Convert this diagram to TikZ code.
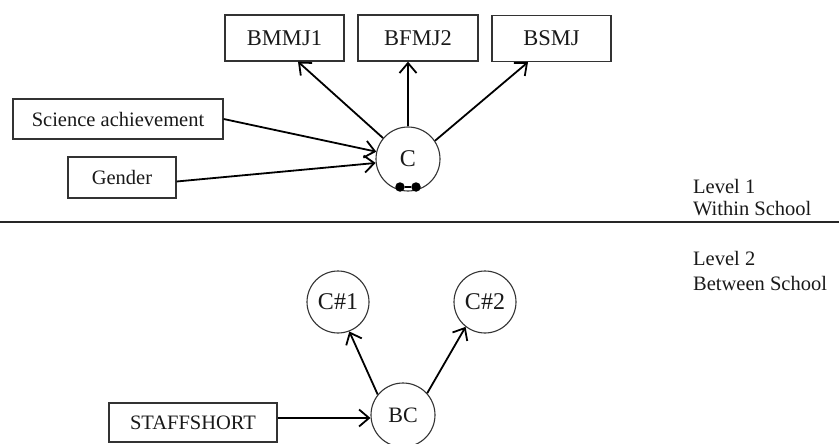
\documentclass[tikz,border=0pt]{standalone}
\usepackage{fontspec}
\setmainfont{Liberation Serif}
\usetikzlibrary{arrows.meta}
\begin{document}
\begin{tikzpicture}[x=1pt,y=-1pt,
  boxnode/.style={draw=black!80,line width=1.3pt,rectangle,inner sep=0pt,text=black!90},
  topbox/.style={boxnode,minimum height=46pt,font=\fontsize{22.5}{26}\selectfont},
  sidebox/.style={boxnode,font=\fontsize{20.5}{24}\selectfont},
  latent/.style={draw=black!80,line width=1.1pt,circle,inner sep=0pt,text=black!90},
  dotnode/.style={circle,fill=black,inner sep=0pt,minimum size=9.5pt},
  lvl/.style={anchor=base west,inner sep=0pt,text=black!90,font=\fontsize{20.5}{24}\selectfont},
  arr/.style={draw=black,line width=1.8pt,-{Straight Barb[length=10pt,width=17pt]}}
]
\useasboundingbox (0,0) rectangle (839,444);
% level 1
\node[topbox,minimum width=119pt] (bmmj1) at (284.5,38) {BMMJ1};
\node[topbox,minimum width=120pt] (bfmj2) at (418,38) {BFMJ2};
\node[topbox,minimum width=119pt] (bsmj) at (551.5,38.5) {BSMJ};
\node[sidebox,minimum width=210pt,minimum height=40pt] (sci) at (118,119) {Science achievement};
\node[sidebox,minimum width=108pt,minimum height=41pt] (gender) at (122,177.5) {Gender};
\node[latent,minimum size=64pt,font=\fontsize{24}{28}\selectfont] (c) at (408,159) {C};
\node[dotnode] (d1) at (400,187) {};
\node[dotnode] (d2) at (416,187) {};
\draw[line width=1.1pt] (d1) -- (d2);
\draw[arr] (c.140) -- ([xshift=13.5pt]bmmj1.south);
\draw[arr] (c.north) -- (c.north |- bfmj2.south);
\draw[arr] (c.34) -- ([xshift=-23.5pt]bsmj.south);
\draw[arr] (sci.east) -- (c.167);
\draw[arr] ([yshift=-4pt]gender.east) -- (c.187);
% divider
\coordinate (ll) at (0,222);
\coordinate (lr) at (839,222);
\draw[line width=1.6pt,black!85] (ll) -- (lr);
\node[lvl] (lv1a) at (693,193) {Level 1};
\node[lvl] (lv1b) at (693,215) {Within School};
\node[lvl] (lv2a) at (693,265) {Level 2};
\node[lvl] (lv2b) at (693,290) {Between School};
% level 2
\node[latent,minimum size=62pt,font=\fontsize{24}{28}\selectfont] (c1) at (338,302) {C\#1};
\node[latent,minimum size=62pt,font=\fontsize{24}{28}\selectfont] (c2) at (485,302) {C\#2};
\node[latent,minimum size=64pt,font=\fontsize{22}{26}\selectfont] (bc) at (403,415) {BC};
\node[sidebox,minimum width=168pt,minimum height=39pt] (staff) at (193,422.5) {STAFFSHORT};
\draw[arr] (bc.141) -- (c1.291);
\draw[arr] (bc.42) -- (c2.232);
\draw[arr] ([yshift=4.5pt]staff.east) -- ([yshift=4.5pt]staff.east -| bc.west);
\end{tikzpicture}
\end{document}
